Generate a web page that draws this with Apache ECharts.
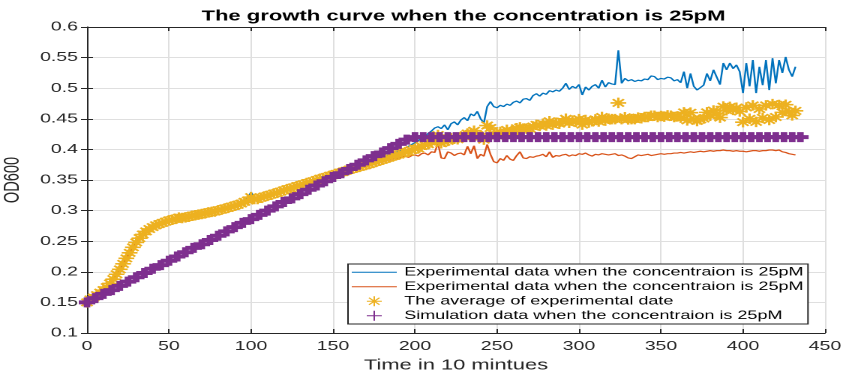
<!DOCTYPE html>
<html><head><meta charset="utf-8">
<script src="https://cdn.jsdelivr.net/npm/echarts@6/dist/echarts.min.js"></script>
<style>
html,body{margin:0;padding:0;background:#fff;overflow:hidden;width:843px;height:374px}
#chart{width:562px;height:374px;transform:scaleX(1.5);transform-origin:0 0}
</style>
</head><body><div id="chart"></div>
<script>
// time in 10-minute steps
const time=[0,2,4,6,8,10,12,14,16,18,20,22,24,26,28,30,32,34,36,38,40,42,44,46,48,50,52,54,56,58,60,62,64,66,68,70,72,74,76,78,80,82,84,86,88,90,92,94,96,98,100,102,104,106,108,110,112,114,116,118,120,122,124,126,128,130,132,134,136,138,140,142,144,146,148,150,152,154,156,158,160,162,164,166,168,170,172,174,176,178,180,182,184,186,188,190,192,194,196,198,200,202,204,206,208,210,212,214,216,218,220,222,224,226,228,230,232,234,236,238,240,242,244,246,248,250,252,254,256,258,260,262,264,266,268,270,272,274,276,278,280,282,284,286,288,290,292,294,296,298,300,302,304,306,308,310,312,314,316,318,320,322,324,326,328,330,332,334,336,338,340,342,344,346,348,350,352,354,356,358,360,362,364,366,368,370,372,374,376,378,380,382,384,386,388,390,392,394,396,398,400,402,404,406,408,410,412,414,416,418,420,422,424,426,428,430,432];
// experimental data 1 (blue)
const expBlue=[
0.151,0.156,0.159,0.163,0.167,0.171,0.176,0.182,0.189,0.197,
0.205,0.214,0.223,0.232,0.241,0.249,0.256,0.262,0.267,0.271,
0.275,0.277,0.280,0.282,0.284,0.286,0.287,0.289,0.292,0.290,
0.291,0.292,0.294,0.295,0.296,0.297,0.298,0.300,0.301,0.301,
0.303,0.304,0.306,0.307,0.309,0.310,0.312,0.314,0.318,0.321,
0.330,0.322,0.321,0.323,0.325,0.326,0.328,0.330,0.331,0.333,
0.335,0.337,0.338,0.340,0.342,0.343,0.345,0.347,0.348,0.350,
0.352,0.354,0.355,0.357,0.359,0.360,0.362,0.364,0.365,0.367,
0.369,0.371,0.372,0.374,0.376,0.377,0.379,0.381,0.383,0.385,
0.387,0.389,0.391,0.393,0.395,0.397,0.400,0.402,0.405,0.408,
0.411,0.414,0.418,0.421,0.426,0.430,0.435,0.437,0.434,0.440,
0.432,0.442,0.445,0.440,0.448,0.452,0.447,0.458,0.455,0.462,
0.450,0.443,0.470,0.478,0.470,0.468,0.472,0.470,0.474,0.472,
0.477,0.479,0.476,0.482,0.483,0.480,0.488,0.491,0.487,0.492,
0.490,0.496,0.494,0.497,0.495,0.500,0.508,0.498,0.503,0.500,
0.506,0.489,0.502,0.497,0.503,0.506,0.500,0.513,0.502,0.509,
0.507,0.506,0.562,0.508,0.516,0.512,0.514,0.511,0.513,0.512,
0.515,0.514,0.520,0.519,0.514,0.516,0.515,0.518,0.517,0.512,
0.514,0.509,0.527,0.500,0.524,0.503,0.497,0.501,0.505,0.524,
0.512,0.530,0.518,0.506,0.541,0.530,0.541,0.532,0.538,0.527,
0.492,0.541,0.503,0.546,0.492,0.535,0.505,0.546,0.497,0.549,
0.508,0.546,0.525,0.551,0.530,0.519,0.535];
// experimental data 2 (orange)
const expOrange=[
0.149,0.154,0.157,0.161,0.165,0.169,0.174,0.180,0.187,0.195,
0.203,0.212,0.221,0.230,0.239,0.247,0.254,0.260,0.265,0.269,
0.271,0.275,0.276,0.278,0.280,0.282,0.283,0.284,0.285,0.286,
0.287,0.288,0.289,0.290,0.291,0.292,0.293,0.294,0.295,0.296,
0.298,0.299,0.301,0.302,0.304,0.306,0.307,0.309,0.311,0.312,
0.314,0.316,0.317,0.319,0.321,0.322,0.324,0.326,0.327,0.329,
0.331,0.333,0.334,0.336,0.338,0.339,0.341,0.343,0.344,0.346,
0.348,0.350,0.351,0.353,0.355,0.356,0.358,0.360,0.361,0.363,
0.365,0.366,0.368,0.369,0.371,0.372,0.373,0.375,0.376,0.378,
0.379,0.381,0.382,0.384,0.385,0.386,0.388,0.389,0.387,0.390,
0.391,0.389,0.393,0.394,0.391,0.396,0.395,0.410,0.386,0.385,
0.396,0.394,0.390,0.393,0.394,0.391,0.405,0.393,0.406,0.385,
0.392,0.389,0.408,0.392,0.380,0.378,0.385,0.382,0.390,0.384,
0.382,0.390,0.396,0.386,0.385,0.388,0.387,0.389,0.390,0.392,
0.388,0.396,0.387,0.390,0.389,0.391,0.392,0.389,0.391,0.390,
0.393,0.392,0.394,0.391,0.389,0.392,0.391,0.393,0.392,0.391,
0.392,0.393,0.390,0.391,0.389,0.386,0.385,0.388,0.391,0.390,
0.391,0.392,0.390,0.391,0.392,0.393,0.392,0.393,0.393,0.394,
0.394,0.395,0.394,0.395,0.396,0.395,0.396,0.397,0.396,0.397,
0.398,0.397,0.398,0.398,0.399,0.398,0.398,0.397,0.398,0.397,
0.397,0.396,0.397,0.398,0.398,0.397,0.398,0.398,0.399,0.399,
0.398,0.399,0.396,0.395,0.393,0.392,0.391];
// simulation data
const simTime=[0,5,10,15,20,25,30,35,40,45,50,55,60,65,70,75,80,85,90,95,100,105,110,115,120,125,130,135,140,145,150,155,160,165,170,175,180,185,190,195,200,205,210,215,220,225,230,235,240,245,250,255,260,265,270,275,280,285,290,295,300,305,310,315,320,325,330,335,340,345,350,355,360,365,370,375,380,385,390,395,400,405,410,415,420,425,430,435];
const simValue=[
0.150,0.157,0.164,0.170,0.177,0.184,0.191,0.198,0.205,0.211,
0.218,0.225,0.232,0.239,0.245,0.252,0.259,0.266,0.273,0.280,
0.286,0.293,0.300,0.307,0.314,0.320,0.327,0.334,0.341,0.348,
0.355,0.361,0.368,0.375,0.382,0.389,0.395,0.402,0.409,0.416,
0.420,0.420,0.420,0.420,0.420,0.420,0.420,0.420,0.420,0.420,
0.420,0.420,0.420,0.420,0.420,0.420,0.420,0.420,0.420,0.420,
0.420,0.420,0.420,0.420,0.420,0.420,0.420,0.420,0.420,0.420,
0.420,0.420,0.420,0.420,0.420,0.420,0.420,0.420,0.420,0.420,
0.420,0.420,0.420,0.420,0.420,0.420,0.420,0.420];
const seriesKeys=['exp1','exp2','avg','sim'];
const legendLabels=[
'Experimental data when the concentraion is 25pM',
'Experimental data when the concentraion is 25pM',
'The average of experimental date',
'Simulation data when the concentraion is 25pM'];
const titleText='The growth curve when the concentration is 25pM';
const xName='Time in 10 mintues';
const yName='OD600';

const blueData=time.map((t,i)=>[t,expBlue[i]]);
const orangeData=time.map((t,i)=>[t,expOrange[i]]);
const avgData=time.map((t,i)=>[t,+((expBlue[i]+expOrange[i])/2).toFixed(4)]);
const simData=simTime.map((t,i)=>[t,simValue[i]]);

const FONT='Liberation Sans';
const AX='#262626';
const ASTER='path://M5,0L5,10M0,5L10,5M1.5,1.5L8.5,8.5M1.5,8.5L8.5,1.5';
const PLUS='path://M5,0L5,10M0,5L10,5';
const FATPLUS='path://M3,0L7,0L7,3L10,3L10,7L7,7L7,10L3,10L3,7L0,7L0,3L3,3Z';
const C=['#0072BD','#D95319','#EDB120','#7E2F8E'];

const chart=echarts.init(document.getElementById('chart'),null,{renderer:'canvas',devicePixelRatio:2});
const axisCommon={axisLine:{show:true,lineStyle:{color:AX,width:1}},axisTick:{show:true,inside:true,length:4,lineStyle:{color:AX}}};
const hiddenSym={color:'rgba(0,0,0,0)',borderWidth:0,opacity:0};
chart.setOption({
  animation:false,
  backgroundColor:'#fff',
  title:{text:titleText,left:304,top:4,textAlign:'center',textStyle:{fontFamily:FONT,fontSize:14.7,fontWeight:'bold',color:'#000'}},
  grid:{left:58,right:12,top:27,bottom:41,containLabel:false,outerBoundsMode:'none'},
  legend:{
    orient:'vertical',left:232,top:264,padding:[1,3,1,2],itemGap:0,itemWidth:30,itemHeight:10,z:10,
    backgroundColor:'#fff',borderColor:AX,borderWidth:1,borderRadius:0,
    textStyle:{fontFamily:FONT,fontSize:12,color:'#000',lineHeight:14.5},
    formatter:n=>legendLabels[seriesKeys.indexOf(n)],
    data:[
      {name:'exp1',itemStyle:hiddenSym,lineStyle:{color:C[0],width:1}},
      {name:'exp2',itemStyle:hiddenSym,lineStyle:{color:C[1],width:1}},
      {name:'avg',icon:ASTER,itemStyle:{color:'rgba(0,0,0,0)',borderColor:C[2],borderWidth:1}},
      {name:'sim',icon:PLUS,itemStyle:{color:'rgba(0,0,0,0)',borderColor:C[3],borderWidth:1}}
    ]
  },
  xAxis:[
    Object.assign({type:'value',min:0,max:450,interval:50,position:'bottom',
      name:xName,nameLocation:'middle',nameGap:24,nameTextStyle:{fontFamily:FONT,fontSize:14.6,color:AX},
      axisLabel:{fontFamily:FONT,fontSize:13,color:AX,margin:7},
      splitLine:{show:true,lineStyle:{color:'#dfdfdf',width:1}}},axisCommon),
    Object.assign({type:'value',min:0,max:450,interval:50,position:'top',
      axisLabel:{show:false},splitLine:{show:false}},axisCommon)
  ],
  yAxis:[
    Object.assign({type:'value',min:0.1,max:0.6,interval:0.05,position:'left',
      name:yName,nameLocation:'middle',nameGap:35,nameTextStyle:{fontFamily:FONT,fontSize:14.6,color:AX},
      axisLabel:{fontFamily:FONT,fontSize:13,color:AX,margin:6},
      splitLine:{show:true,lineStyle:{color:'#dfdfdf',width:1}}},axisCommon),
    Object.assign({type:'value',min:0.1,max:0.6,interval:0.05,position:'right',
      axisLabel:{show:false},splitLine:{show:false}},axisCommon)
  ],
  series:[
    {name:'exp1',type:'line',z:2,data:blueData,symbol:'none',lineStyle:{color:C[0],width:1.2},itemStyle:{color:C[0]}},
    {name:'exp2',type:'line',z:2,data:orangeData,symbol:'none',lineStyle:{color:C[1],width:1.2},itemStyle:{color:C[1]}},
    {name:'avg',type:'scatter',z:3,data:avgData,symbol:ASTER,symbolSize:10.5,
      itemStyle:{color:'rgba(0,0,0,0)',borderColor:C[2],borderWidth:1.6,opacity:1}},
    {name:'sim',type:'scatter',z:4,data:simData,symbol:FATPLUS,symbolSize:[11,10],
      itemStyle:{color:C[3],borderWidth:0,opacity:1}}
  ]
});
</script>
</body></html>
